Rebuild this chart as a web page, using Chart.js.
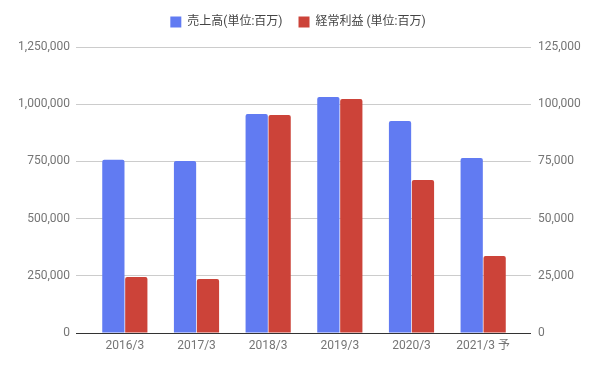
<!DOCTYPE html>
<html>
<head>
<meta charset="utf-8">
<script src="https://cdn.jsdelivr.net/npm/chart.js@4/dist/chart.umd.min.js"></script>
<style>
  html, body { margin: 0; padding: 0; background: #fff; }
  #wrap { width: 596px; height: 368px; }
</style>
</head>
<body>
<div id="wrap"><canvas id="salesChart" width="596" height="368"></canvas></div>
<script>
// Data
const years = ["2016/3", "2017/3", "2018/3", "2019/3", "2020/3", "2021/3 予"];
const sales = [757000, 752000, 957000, 1031000, 927000, 765000];
const ordinaryProfit = [24500, 23600, 95300, 102300, 66900, 33700];
const leftTicks = [0, 250000, 500000, 750000, 1000000, 1250000];
const rightTicks = [0, 25000, 50000, 75000, 100000, 125000];

const FONT = "Roboto, 'Noto Sans CJK JP', sans-serif";
const gridColor = ctx => (ctx.tick && ctx.tick.value === 0) ? "#333" : "#ccc";
const fmt = v => Number(v).toLocaleString("en-US");

// fixed legend height so the plot starts where the reference does
const legendHeight = {
  id: "legendHeight",
  beforeInit(chart) {
    const fit = chart.legend.fit;
    chart.legend.fit = function () {
      fit.call(this);
      this.height = 47;
    };
  }
};

new Chart(document.getElementById("salesChart"), {
  type: "bar",
  data: {
    labels: years,
    datasets: [
      {
        label: "売上高(単位:百万)",
        data: sales,
        backgroundColor: "#617bf2",
        yAxisID: "y",
        borderRadius: { topLeft: 2, topRight: 2 },
        borderSkipped: "bottom",
        categoryPercentage: 0.64,
        barPercentage: 0.97
      },
      {
        label: "経常利益 (単位:百万)",
        data: ordinaryProfit,
        backgroundColor: "#cc4339",
        yAxisID: "y1",
        borderRadius: { topLeft: 2, topRight: 2 },
        borderSkipped: "bottom",
        categoryPercentage: 0.64,
        barPercentage: 0.97
      }
    ]
  },
  options: {
    responsive: false,
    animation: false,
    layout: { padding: { top: 0, bottom: 0, left: 0, right: 0 } },
    plugins: {
      tooltip: { enabled: false },
      legend: {
        position: "top",
        labels: {
          boxWidth: 11,
          boxHeight: 11,
          padding: 16,
          color: "#444",
          font: { family: FONT, size: 12 }
        }
      }
    },
    scales: {
      x: {
        grid: { display: false, drawTicks: false },
        border: { display: false },
        ticks: {
          color: "#757575",
          padding: 6,
          font: { family: FONT, size: 12 },
          maxRotation: 0
        },
        afterFit(scale) { scale.height = 35; }
      },
      y: {
        position: "left",
        min: 0,
        max: leftTicks[leftTicks.length - 1],
        afterBuildTicks(scale) { scale.ticks = leftTicks.map(v => ({ value: v })); },
        grid: { color: gridColor, tickColor: gridColor, tickLength: 13 },
        border: { display: false },
        ticks: {
          color: "#757575",
          padding: 6,
          font: { family: FONT, size: 12 },
          callback: v => fmt(v)
        },
        afterFit(scale) { scale.width = 89; }
      },
      y1: {
        position: "right",
        min: 0,
        max: rightTicks[rightTicks.length - 1],
        afterBuildTicks(scale) { scale.ticks = rightTicks.map(v => ({ value: v })); },
        grid: { drawOnChartArea: false, color: gridColor, tickColor: gridColor, tickLength: 12 },
        border: { display: false },
        ticks: {
          color: "#757575",
          padding: 7,
          font: { family: FONT, size: 12 },
          callback: v => fmt(v)
        },
        afterFit(scale) { scale.width = 77; }
      }
    }
  },
  plugins: [legendHeight]
});
</script>
</body>
</html>
